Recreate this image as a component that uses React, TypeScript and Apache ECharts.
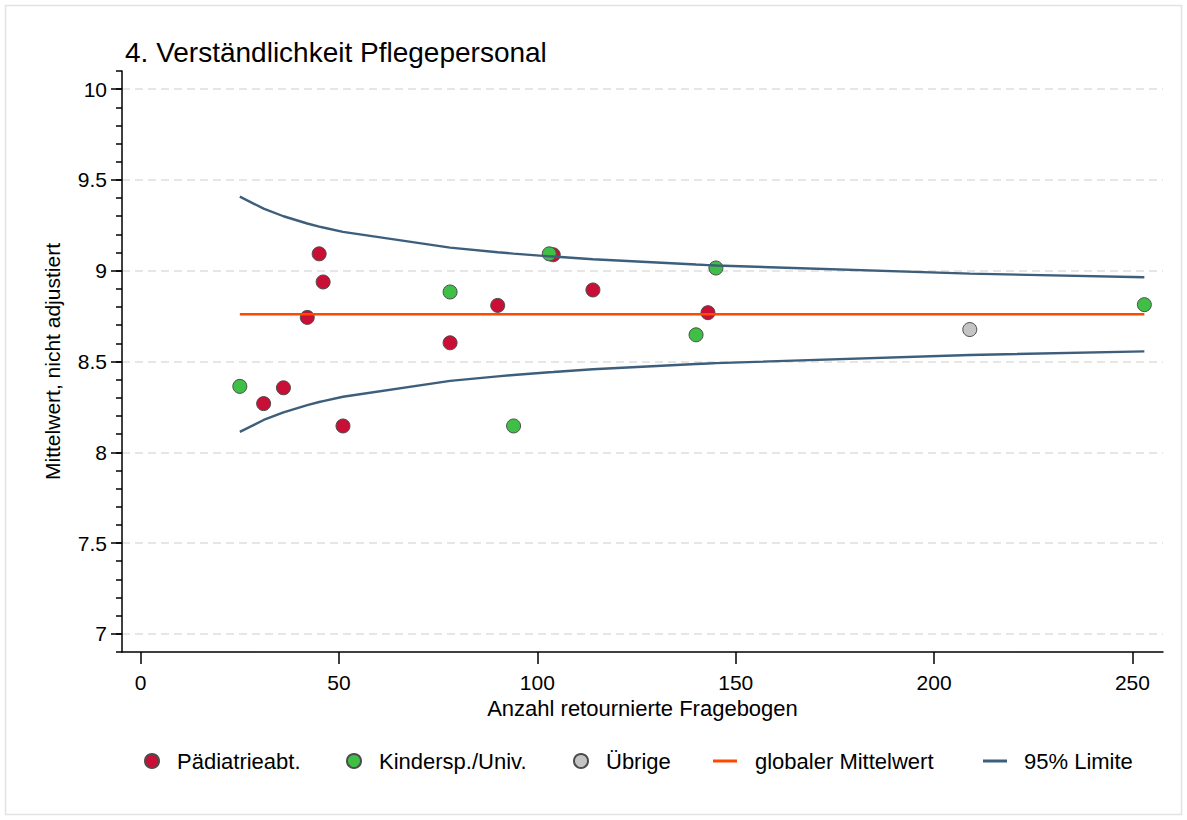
import React, { useEffect, useRef } from 'react';
import * as echarts from 'echarts';

const titleText = '4. Verständlichkeit Pflegepersonal';
const xAxisTitle = 'Anzahl retournierte Fragebogen';
const yAxisTitle = 'Mittelwert, nicht adjustiert';

const xTicks = [0, 50, 100, 150, 200, 250];
const yTicks = [7, 7.5, 8, 8.5, 9, 9.5, 10];

const paedN = [31, 36, 42, 45, 46, 51, 78, 90, 104, 114, 143];
const paedY = [8.268, 8.355, 8.743, 9.093, 8.938, 8.145, 8.603, 8.809, 9.088, 8.894, 8.769];
const kinderN = [25, 78, 94, 103, 140, 145, 253];
const kinderY = [8.363, 8.883, 8.145, 9.093, 8.647, 9.015, 8.813];
const uebrigeN = [209];
const uebrigeY = [8.676];

const meanN = [25, 253];
const meanY = [8.76, 8.76];

const limitN = [25, 31, 36, 42, 45, 46, 51, 78, 90, 94, 103, 104, 114, 140, 143, 145, 209, 253];
const upperLimit = [9.408, 9.342, 9.3, 9.26, 9.243, 9.238, 9.214, 9.127, 9.102, 9.094, 9.079, 9.078, 9.063, 9.034, 9.031, 9.029, 8.984, 8.964];
const lowerLimit = [8.112, 8.178, 8.22, 8.26, 8.277, 8.282, 8.306, 8.393, 8.418, 8.426, 8.441, 8.442, 8.457, 8.486, 8.489, 8.491, 8.536, 8.556];

const FONT = '"Liberation Sans", Arial, Helvetica, sans-serif';
const RED = '#c90f36';
const GREEN = '#3fbf45';
const GRAY = '#c4c4c4';
const ORANGE = '#ff4800';
const NAVY = '#3d5f7b';
const BORDER = '#4d4d4d';

const pairs = (xs: number[], ys: number[]) => xs.map((x, i) => [x, ys[i]]);

export default function App() {
  const ref = useRef<HTMLDivElement>(null);
  useEffect(() => {
    if (!ref.current) return;
    const chart = echarts.init(ref.current, undefined, { renderer: 'svg' });
    const scatterBase = {
      type: 'scatter',
      symbol: 'circle',
      symbolSize: 14,
      z: 2,
    };
    const legendBase = {
      orient: 'horizontal',
      top: 750,
      padding: 0,
      selectedMode: false,
      textStyle: { fontSize: 22, color: '#000', fontFamily: FONT, padding: [0, 0, 0, 13] },
    };
    chart.setOption({
      animation: false,
      backgroundColor: '#fff',
      textStyle: { fontFamily: FONT },
      title: {
        text: titleText,
        left: 125,
        top: 38,
        padding: 0,
        textStyle: { fontSize: 28, fontWeight: 'normal', color: '#000', fontFamily: FONT },
      },
      graphic: [
        {
          type: 'rect',
          shape: { x: 5.5, y: 5.5, width: 1176, height: 809 },
          style: { fill: 'none', stroke: '#e2e2e2', lineWidth: 1.5 },
          silent: true,
          z: -10,
        },
      ],
      legend: [
        { ...legendBase, left: 144, itemWidth: 14, itemHeight: 14, icon: 'circle', data: ['Pädiatrieabt.'] },
        { ...legendBase, left: 346, itemWidth: 14, itemHeight: 14, icon: 'circle', data: ['Kindersp./Univ.'] },
        { ...legendBase, left: 573, itemWidth: 14, itemHeight: 14, icon: 'circle', data: ['Übrige'] },
        { ...legendBase, left: 713, itemWidth: 24, itemHeight: 3, icon: 'rect', data: ['globaler Mittelwert'], textStyle: { ...legendBase.textStyle, padding: [0, 0, 0, 13] } },
        { ...legendBase, left: 983, itemWidth: 24, itemHeight: 3, icon: 'rect', data: ['95% Limite'], textStyle: { ...legendBase.textStyle, padding: [0, 0, 0, 12] } },
      ],
      grid: { left: 122, top: 71, right: 24, bottom: 168, containLabel: false },
      xAxis: {
        type: 'value',
        min: -4.7,
        max: 257.7,
        name: xAxisTitle,
        nameLocation: 'middle',
        nameGap: 43,
        nameTextStyle: { fontSize: 22, color: '#000', fontFamily: FONT },
        axisLine: { show: true, onZero: false, lineStyle: { color: '#000', width: 1.5 } },
        axisTick: { show: true, length: 12, lineStyle: { color: '#000', width: 1.5 }, customValues: xTicks },
        axisLabel: { fontSize: 21, color: '#000', margin: 20, fontFamily: FONT, customValues: xTicks },
        splitLine: { show: false },
      },
      yAxis: [
        {
          type: 'value',
          position: 'left',
          min: 6.9,
          max: 10.1,
          name: yAxisTitle,
          nameLocation: 'middle',
          nameGap: 59,
          nameRotate: 90,
          nameTextStyle: { fontSize: 21, color: '#000', fontFamily: FONT },
          axisLine: { show: true, onZero: false, lineStyle: { color: '#000', width: 1.5 } },
          axisTick: { show: true, length: 11, lineStyle: { color: '#000', width: 1.5 }, customValues: yTicks },
          axisLabel: { fontSize: 21, color: '#000', margin: 15, fontFamily: FONT, customValues: yTicks },
          splitLine: { show: true, lineStyle: { color: '#dedede', width: 1.5, type: [8, 5] } },
        },
        {
          type: 'value',
          position: 'left',
          offset: 0,
          min: 6.9,
          max: 10.1,
          interval: 0.1,
          axisLine: { show: false, onZero: false },
          axisTick: { show: true, inside: false, length: 6, lineStyle: { color: '#000', width: 1.5 } },
          axisLabel: { show: false },
          splitLine: { show: false },
        },
      ],
      series: [
        {
          ...scatterBase,
          name: 'Pädiatrieabt.',
          itemStyle: { color: RED, borderColor: BORDER, borderWidth: 1, opacity: 1 },
          data: pairs(paedN, paedY),
        },
        {
          ...scatterBase,
          name: 'Kindersp./Univ.',
          itemStyle: { color: GREEN, borderColor: BORDER, borderWidth: 1, opacity: 1 },
          data: pairs(kinderN, kinderY),
        },
        {
          ...scatterBase,
          name: 'Übrige',
          itemStyle: { color: GRAY, borderColor: BORDER, borderWidth: 1, opacity: 1 },
          data: pairs(uebrigeN, uebrigeY),
        },
        {
          type: 'line',
          name: 'globaler Mittelwert',
          color: ORANGE,
          symbol: 'none',
          z: 3,
          lineStyle: { color: ORANGE, width: 2.4 },
          itemStyle: { color: ORANGE },
          data: pairs(meanN, meanY),
        },
        {
          type: 'line',
          name: '95% Limite',
          color: NAVY,
          symbol: 'none',
          z: 3,
          lineStyle: { color: NAVY, width: 2.4 },
          itemStyle: { color: NAVY },
          data: pairs(limitN, upperLimit),
        },
        {
          type: 'line',
          name: '95% Limite',
          color: NAVY,
          symbol: 'none',
          z: 3,
          lineStyle: { color: NAVY, width: 2.4 },
          itemStyle: { color: NAVY },
          data: pairs(limitN, lowerLimit),
        },
      ],
    });
    return () => chart.dispose();
  }, []);
  return (
    <div
      ref={ref}
      style={{ position: 'fixed', left: 0, top: 0, width: 1187, height: 820, background: '#fff' }}
    />
  );
}
